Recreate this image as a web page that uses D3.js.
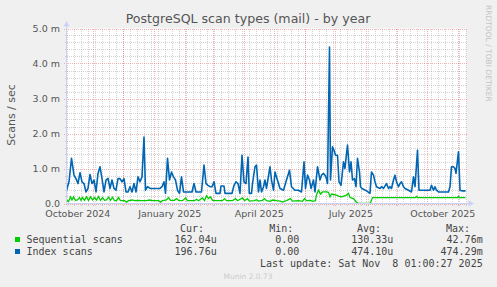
<!DOCTYPE html>
<html>
<head>
<meta charset="utf-8">
<script src="https://cdn.jsdelivr.net/npm/d3@7"></script>
<style>
  html, body { margin: 0; padding: 0; background: #f0f0f0; }
  svg { display: block; }
  text { font-family: "DejaVu Sans", sans-serif; fill: #555; }
  .mono { font-family: "DejaVu Sans Mono", monospace; font-size: 10px; fill: #444; }
</style>
</head>
<body>
<svg id="chart" width="497" height="287"></svg>
<script>
// values are in milli scans/sec, days are offsets from the left edge of the graph
var seriesNames = ["Sequential scans", "Index scans"];
var seriesColors = ["#00cc00", "#0066b3"];

var seqDays = [0, 2, 4, 5.5, 7, 9, 11, 13, 14.5, 16, 18, 20, 22, 24, 26, 28, 30, 32, 34, 36, 38, 40, 42, 44, 46, 48, 50, 52, 54,
  58, 60, 62, 66, 68, 72, 74, 80, 83, 86, 92, 94, 96, 100, 102, 104, 108, 110, 112, 116, 119, 121, 128, 130, 132, 136, 138,
  140, 142, 144, 146, 150, 156, 158, 160, 166, 169, 171, 176, 178, 181, 183, 188, 190, 192, 196, 198, 200, 204, 206, 210,
  214, 216, 218, 220, 224, 226, 232, 236, 238, 240, 244, 246, 249, 250, 252, 254, 256, 260, 262, 263.5, 265, 270, 272, 275,
  278, 280, 282, 283.5, 287, 289.5, 292, 302, 304, 306, 349, 350, 351, 391, 392, 393, 399];
var seqVals = [0.1, 0.05, 0.19, 0.1, 0.19, 0.09, 0.1, 0.17, 0.09, 0.17, 0.09, 0.19, 0.09, 0.19, 0.1, 0.17, 0.1, 0.2, 0.09, 0.17,
  0.09, 0.1, 0.18, 0.09, 0.18, 0.08, 0.08, 0.17, 0.08, 0.08, 0.04, 0.08, 0.1, 0.08, 0.09, 0.08, 0.08, 0.1, 0.08, 0.08, 0.04,
  0.08, 0.1, 0.17, 0.09, 0.09, 0.14, 0.09, 0.08, 0.16, 0.08, 0.08, 0.12, 0.08, 0.16, 0.08, 0.22, 0.14, 0.19, 0.09, 0.08, 0.08,
  0.14, 0.08, 0.08, 0.14, 0.08, 0.16, 0.08, 0.14, 0.07, 0.08, 0.11, 0.07, 0.09, 0.14, 0.08, 0.06, 0.1, 0.08, 0.07, 0.04, 0.07,
  0.08, 0.14, 0.07, 0.08, 0.06, 0.14, 0.08, 0.09, 0.06, 0.08, 0.25, 0.38, 0.27, 0.33, 0.33, 0.32, 0.19, 0.27, 0.24, 0.21, 0.19,
  0.22, 0.24, 0.29, 0.17, 0.14, 0.05, 0, 0, 0.02, 0.17, 0.17, 0.2, 0.17, 0.17, 0.2, 0.17, 0.17];

var idxDays = [0, 2.5, 5, 7.5, 9.5, 11.5, 13.5, 15.5, 17.5, 19.5, 21.5, 23.5, 25.5, 27.5, 29.5, 31.5, 33.5, 35.5, 37.5, 39.5,
  41.5, 43.5, 45.5, 47.5, 49.5, 51.5, 53.5, 55.5, 57.5, 59.5, 61.5, 63.5, 65.5, 67.5, 69.5, 71.5, 73.5, 75.5, 77.5, 79, 81,
  83.5, 93.5, 95.5, 97.5, 99, 101, 103, 105, 107, 109, 111, 113, 115, 117, 125.5, 127.5, 129.5, 135, 137.5, 139.5, 141.5,
  143.5, 145.5, 147.5, 149.5, 153.5, 154.5, 157.5, 158.5, 165.5, 167.5, 169.5, 171.5, 173.5, 175.5, 177.5, 179.5, 181.5,
  182.8, 185, 186, 188.5, 190, 192, 193.5, 195, 197, 198.5, 200, 203.5, 205, 207, 208.5, 210, 212, 213.5, 217, 220, 223,
  225, 228.5, 232, 235, 237.5, 239, 241, 243, 244.5, 247, 248.5, 251, 253.5, 255, 257, 258.5, 260, 261, 263, 264, 266,
  267.5, 269, 271, 272.5, 274.5, 277, 278.5, 279.5, 281, 283, 284.5, 286, 288, 289.5, 291, 293, 294, 295.5, 300, 303.5,
  305, 307, 308.5, 310, 313.5, 315, 317, 320, 322, 323.5, 325, 327, 328.5, 330, 332, 333.5, 335, 337, 338.5, 342, 345,
  347, 348.5, 351, 352.5, 363.5, 365, 367, 368.5, 370, 372, 382, 383.5, 385, 387, 388.5, 389.5, 392, 393.5, 396, 399];
var idxVals = [0.38, 0.62, 1.29, 0.81, 0.71, 0.57, 0.88, 0.62, 0.57, 0.33, 0.43, 0.83, 0.57, 0.67, 0.33, 0.86, 1.05, 0.71,
  0.33, 0.67, 0.72, 0.43, 0.67, 0.43, 0.38, 0.71, 0.71, 0.62, 0.71, 0.33, 0.33, 0.48, 0.33, 0.57, 0.33, 0.76, 0.62, 0.76,
  1.9, 0.38, 0.48, 0.43, 0.43, 0.48, 0.62, 0.29, 1.29, 0.67, 0.9, 0.76, 0.67, 0.38, 0.29, 0.76, 0.33, 0.33, 0.57, 0.33,
  0.33, 1.1, 0.57, 0.52, 0.48, 0.48, 0.62, 0.29, 0.29, 0.5, 0.5, 0.29, 0.29, 0.52, 0.62, 0.57, 0.29, 1.38, 0.62, 0.57,
  1.33, 0.29, 0.29, 0.57, 1.05, 1.1, 0.33, 0.67, 0.33, 0.48, 0.67, 0.43, 1.05, 0.67, 0.38, 0.9, 0.76, 0.57, 0.43, 0.38,
  0.67, 0.95, 0.48, 0.38, 0.38, 0.33, 1.19, 0.43, 0.81, 0.67, 0.43, 0.67, 0.33, 1.05, 0.67, 0.81, 0.86, 0.81, 0.71, 0.57,
  4.47, 0.67, 1.62, 1.52, 1.38, 1.38, 0.62, 0.52, 1.19, 1.0, 1.29, 1.67, 0.9, 1.19, 0.67, 0.71, 0.48, 1.29, 0.9, 0.48,
  0.43, 0.36, 0.29, 0.9, 0.81, 0.62, 0.48, 0.43, 0.48, 0.43, 0.57, 0.43, 0.48, 0.43, 0.67, 0.81, 0.62, 0.48, 0.57, 0.62,
  0.48, 0.43, 0.38, 0.33, 0.76, 0.48, 1.52, 0.38, 0.38, 0.52, 0.38, 0.48, 0.38, 0.33, 0.33, 0.48, 1.05, 1.05, 1.0, 0.86,
  1.48, 0.38, 0.36, 0.36];

var yTicks = [0, 1, 2, 3, 4, 5];
var yTickLabels = ["0.0", "1.0 m", "2.0 m", "3.0 m", "4.0 m", "5.0 m"];
var legendHeads = ["Cur:", "Min:", "Avg:", "Max:"];
var legendValues = [
  ["162.04u", "0.00", "130.33u", "42.76m"],
  ["196.76u", "0.00", "474.10u", "474.29m"]
];

var startDate = new Date(2024, 9, 5, 4, 48);
var endDate = d3.timeDay.offset(startDate, 400);

var svg = d3.select("#chart");
var pLeft = 66.5, pRight = 466.5, pTop = 28.5, pBottom = 203.5;

var x = d3.scaleTime().domain([startDate, endDate]).range([pLeft, pRight]);
var y = d3.scaleLinear().domain([0, 5]).range([pBottom, pTop]);

// canvas
svg.append("rect").attr("x", pLeft).attr("y", pTop).attr("width", pRight - pLeft).attr("height", pBottom - pTop).attr("fill", "#fff");

var minorCol = "rgba(140,140,140,0.38)", majorCol = "rgba(225,70,70,0.4)";
var grid = svg.append("g").attr("shape-rendering", "crispEdges");

// horizontal minor grid every 0.2m
d3.range(0, 5.01, 0.2).forEach(function(v) {
  if (Math.abs(v - Math.round(v)) < 1e-6) return;
  var py = Math.round(y(v)) + 0.5;
  grid.append("line").attr("x1", pLeft - 2).attr("x2", pRight).attr("y1", py).attr("y2", py)
    .attr("stroke", minorCol).attr("stroke-dasharray", "1,1");
});
// vertical minor grid weekly
d3.timeSunday.range(startDate, endDate).forEach(function(d) {
  var px = Math.round(x(d)) + 0.5;
  grid.append("line").attr("x1", px).attr("x2", px).attr("y1", pTop).attr("y2", pBottom + 2)
    .attr("stroke", minorCol).attr("stroke-dasharray", "1,1");
});
// major grid
yTicks.forEach(function(v) {
  var py = Math.round(y(v)) + 0.5;
  grid.append("line").attr("x1", pLeft - 3).attr("x2", pRight).attr("y1", py).attr("y2", py)
    .attr("stroke", majorCol).attr("stroke-dasharray", "1,1");
});
d3.timeMonth.range(startDate, endDate).forEach(function(d) {
  var px = Math.round(x(d)) + 0.5;
  grid.append("line").attr("x1", px).attr("x2", px).attr("y1", pTop).attr("y2", pBottom + 3)
    .attr("stroke", majorCol).attr("stroke-dasharray", "1,1");
});

// y labels
svg.append("g").selectAll("text").data(yTicks).enter().append("text")
  .attr("x", 60).attr("y", function(d) { return y(d) + 3.3; })
  .attr("text-anchor", "end").style("font-size", "9.5px")
  .text(function(d, i) { return yTickLabels[i]; });

// x labels every three months, centred on the month
var labelMonths = d3.timeMonth.range(d3.timeMonth.floor(startDate), endDate)
  .filter(function(d) { return d.getMonth() % 3 === 0; });
svg.append("g").selectAll("text").data(labelMonths).enter().append("text")
  .attr("x", function(d) { return x(new Date((+d + +d3.timeMonth.offset(d, 1)) / 2)); })
  .attr("y", 216.5).attr("text-anchor", "middle").style("font-size", "9.5px")
  .text(d3.timeFormat("%B %Y"));

// series
svg.append("clipPath").attr("id", "clip").append("rect")
  .attr("x", pLeft).attr("y", pTop - 5).attr("width", pRight - pLeft).attr("height", pBottom - pTop + 5);
var line = d3.line()
  .x(function(d) { return x(d3.timeHour.offset(startDate, d[0] * 24)); })
  .y(function(d) { return y(d[1]); });
var plots = svg.append("g").attr("clip-path", "url(#clip)");
plots.append("path").datum(seqDays.map(function(d, i) { return [d, seqVals[i]]; }))
  .attr("d", line).attr("fill", "none").attr("stroke", seriesColors[0]).attr("stroke-width", 1.3);
plots.append("path").datum(idxDays.map(function(d, i) { return [d, idxVals[i]]; }))
  .attr("d", line).attr("fill", "none").attr("stroke", seriesColors[1]).attr("stroke-width", 1.6)
  .attr("stroke-linejoin", "round");

// axes with arrows
var axisCol = "#c9d1f5";
svg.append("line").attr("x1", pLeft).attr("x2", pLeft).attr("y1", 26).attr("y2", pBottom)
  .attr("stroke", axisCol).attr("shape-rendering", "crispEdges");
svg.append("line").attr("x1", pLeft).attr("x2", 469).attr("y1", pBottom).attr("y2", pBottom)
  .attr("stroke", axisCol).attr("shape-rendering", "crispEdges");
svg.append("path").attr("d", "M63.5,26.5L69.5,26.5L66.5,21Z").attr("fill", axisCol);
svg.append("path").attr("d", "M468.5,200.5L468.5,206.5L474,203.5Z").attr("fill", axisCol);

// titles
svg.append("text").attr("x", 248).attr("y", 23).attr("text-anchor", "middle")
  .style("font-size", "12.6px").text("PostgreSQL scan types (mail) - by year");
svg.append("text").attr("transform", "translate(15,115) rotate(-90)").attr("text-anchor", "middle")
  .style("font-size", "11px").text("Scans / sec");
svg.append("text").attr("transform", "translate(485.5,5) rotate(90)").attr("text-anchor", "start")
  .style("font-size", "7.5px").style("fill", "#c4c4c4").text("RRDTOOL / TOBI OETIKER");

// legend
var headRight = [204, 293.3, 381, 470];
var valRight = [216.7, 299.3, 393.3, 482.7];
svg.append("g").selectAll("text").data(legendHeads).enter().append("text")
  .attr("class", "mono").attr("x", function(d, i) { return headRight[i]; }).attr("y", 231.5)
  .attr("text-anchor", "end").text(function(d) { return d; });
seriesNames.forEach(function(name, r) {
  var by = 243 + r * 12;
  svg.append("rect").attr("x", 15).attr("y", by - 6).attr("width", 5).attr("height", 5)
    .attr("fill", seriesColors[r]);
  svg.append("text").attr("class", "mono").attr("x", 26.5).attr("y", by).text(name);
  legendValues[r].forEach(function(v, c) {
    svg.append("text").attr("class", "mono").attr("x", valRight[c]).attr("y", by)
      .attr("text-anchor", "end").text(v);
  });
});
svg.append("text").attr("class", "mono").attr("x", 482.7).attr("y", 266.7).attr("text-anchor", "end")
  .attr("xml:space", "preserve").style("white-space", "pre").text("Last update: Sat Nov  8 01:00:27 2025");
svg.append("text").attr("x", 248).attr("y", 279).attr("text-anchor", "middle")
  .style("font-size", "7.5px").style("fill", "#ccc").text("Munin 2.0.73");
</script>
</body>
</html>
